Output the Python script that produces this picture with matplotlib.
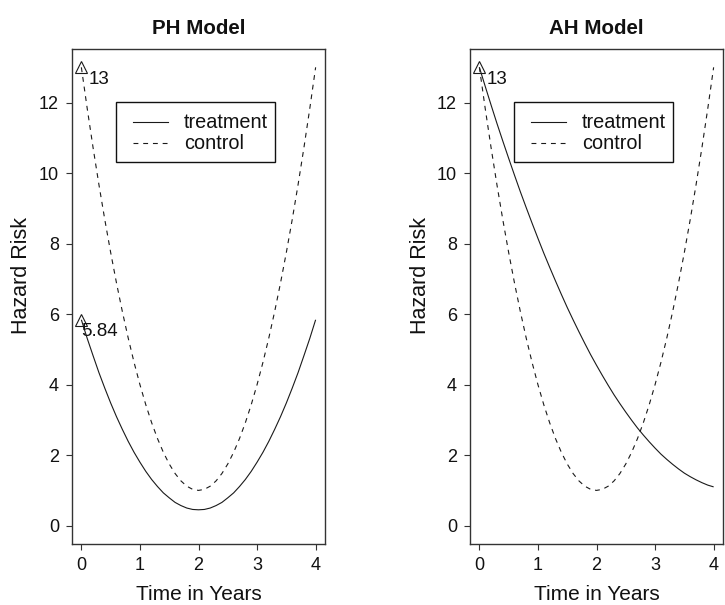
import matplotlib
matplotlib.use("Agg")
import matplotlib.pyplot as plt
from matplotlib.patches import Rectangle
from matplotlib.lines import Line2D

plt.rcParams['font.family'] = ['Liberation Sans', 'DejaVu Sans']
plt.rcParams['lines.scale_dashes'] = False

# ---- data ----
time_years = [0.0, 0.1, 0.2, 0.3, 0.4, 0.5, 0.6, 0.7, 0.8, 0.9,
              1.0, 1.1, 1.2, 1.3, 1.4, 1.5, 1.6, 1.7, 1.8, 1.9,
              2.0, 2.1, 2.2, 2.3, 2.4, 2.5, 2.6, 2.7, 2.8, 2.9,
              3.0, 3.1, 3.2, 3.3, 3.4, 3.5, 3.6, 3.7, 3.8, 3.9, 4.0]

control_hazard = [13.00, 11.83, 10.72, 9.67, 8.68, 7.75, 6.88, 6.07, 5.32, 4.63,
                  4.00, 3.43, 2.92, 2.47, 2.08, 1.75, 1.48, 1.27, 1.12, 1.03,
                  1.00, 1.03, 1.12, 1.27, 1.48, 1.75, 2.08, 2.47, 2.92, 3.43,
                  4.00, 4.63, 5.32, 6.07, 6.88, 7.75, 8.68, 9.67, 10.72, 11.83, 13.00]

ph_treatment = [5.84, 5.31, 4.82, 4.34, 3.90, 3.48, 3.09, 2.73, 2.39, 2.08,
                1.80, 1.54, 1.31, 1.11, 0.93, 0.79, 0.66, 0.57, 0.50, 0.46,
                0.45, 0.46, 0.50, 0.57, 0.66, 0.79, 0.93, 1.11, 1.31, 1.54,
                1.80, 2.08, 2.39, 2.73, 3.09, 3.48, 3.90, 4.34, 4.82, 5.31, 5.84]

ah_treatment = [13.00, 12.46, 11.93, 11.41, 10.91, 10.42, 9.94, 9.47, 9.02, 8.58,
                8.15, 7.73, 7.33, 6.94, 6.56, 6.19, 5.84, 5.50, 5.17, 4.85,
                4.55, 4.26, 3.98, 3.71, 3.46, 3.22, 2.99, 2.77, 2.57, 2.38,
                2.20, 2.03, 1.88, 1.74, 1.61, 1.49, 1.39, 1.30, 1.22, 1.15, 1.10]

panel_titles = ["PH Model", "AH Model"]
legend_labels = ["treatment", "control"]
x_ticks = [0, 1, 2, 3, 4]
y_ticks = [0, 2, 4, 6, 8, 10, 12]
marks_ph = [(0, 13.0, "13"), (0, 5.84, "5.84")]
marks_ah = [(0, 13.0, "13")]

W, H = 725, 605
fig = plt.figure(figsize=(W / 100, H / 100), dpi=100)

line_col = '#1a1a1a'
box_col = '#333333'

def px2fx(px):
    return px / W

def py2fy(py):
    return (H - py) / H

panels = [
    dict(left=72, treat=ph_treatment, marks=marks_ph, title=panel_titles[0]),
    dict(left=470, treat=ah_treatment, marks=marks_ah, title=panel_titles[1]),
]
ax_w, ax_top, ax_bot = 253, 49, 544

for p in panels:
    ax = fig.add_axes([px2fx(p['left']), py2fy(ax_bot), px2fx(ax_w), (ax_bot - ax_top) / H])
    ax.plot(time_years, p['treat'], color=line_col, lw=0.8, solid_capstyle='butt')
    ax.plot(time_years, control_hazard, color=line_col, lw=0.8, linestyle=(0, (3.5, 3.5)))
    for (mx, my, lab) in p['marks']:
        ax.plot([mx], [my], marker='^', markersize=8, mfc='none', mec=line_col, mew=0.8, ls='none')
        ax.annotate(lab, (mx, my), xytext=(18, -12), textcoords='offset pixels',
                    ha='center', va='center', fontsize=13.5, color='#111111')
    ax.set_xlim(-0.16, 4.16)
    ax.set_ylim(-0.52, 13.52)
    ax.set_xticks(x_ticks)
    ax.set_yticks(y_ticks)
    ax.tick_params(direction='out', length=4.3, width=0.8, color=box_col,
                   labelsize=13, pad=5, labelcolor='#111111')
    for s in ax.spines.values():
        s.set_color(box_col)
        s.set_linewidth(1.0)

    # legend (R style)
    ax.add_patch(Rectangle((0.1739, 0.7717), 0.8024 - 0.1739, 0.8929 - 0.7717,
                           transform=ax.transAxes, fill=False, ec='#111111', lw=1.0))
    ax.add_line(Line2D([0.2411, 0.3794], [0.8525, 0.8525], transform=ax.transAxes,
                       color=line_col, lw=0.8))
    ax.add_line(Line2D([0.2411, 0.3794], [0.8101, 0.8101], transform=ax.transAxes,
                       color=line_col, lw=0.8, linestyle=(0, (3.5, 3.5))))
    ax.text(0.4427, 0.8525, legend_labels[0], transform=ax.transAxes,
            ha='left', va='center', fontsize=14.3, color='#111111')
    ax.text(0.4427, 0.8101, legend_labels[1], transform=ax.transAxes,
            ha='left', va='center', fontsize=14.3, color='#111111')

    cx = p['left'] + ax_w / 2
    fig.text(px2fx(cx), py2fy(29), p['title'], ha='center', va='center',
             fontsize=14.8, fontweight='bold', color='#111111')
    fig.text(px2fx(cx), py2fy(594), "Time in Years", ha='center', va='center',
             fontsize=15, color='#111111')
    fig.text(px2fx(p['left'] - 50), py2fy(275), "Hazard Risk", ha='center', va='center',
             rotation=90, fontsize=15.5, color='#111111')

fig.savefig("out.png", dpi=100)
